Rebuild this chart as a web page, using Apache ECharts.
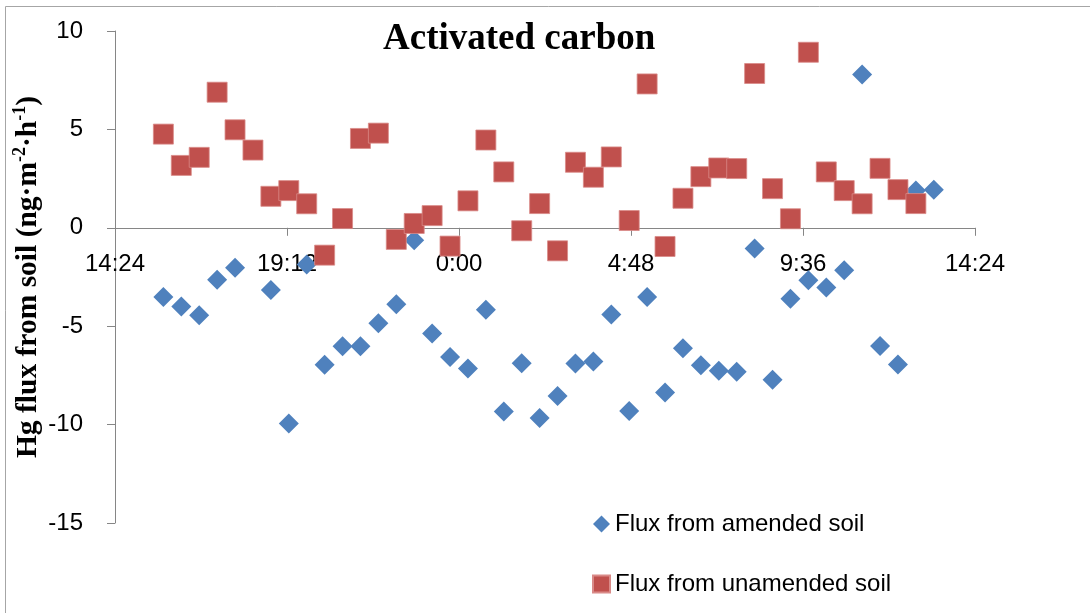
<!DOCTYPE html>
<html>
<head>
<meta charset="utf-8">
<script src="https://cdn.jsdelivr.net/npm/echarts@6/dist/echarts.min.js"></script>
<style>
html,body{margin:0;padding:0;background:#fff;}
#chart{width:1090px;height:613px;}
</style>
</head>
<body>
<div id="chart"></div>
<script>
// Sampling times (clock time, run starts afternoon and continues to next day)
const times = ['15:45','16:15','16:45','17:15','17:45','18:15','18:45','19:15','19:45','20:15',
  '20:45','21:15','21:45','22:15','22:45','23:15','23:45','0:15','0:45','1:15',
  '1:45','2:15','2:45','3:15','3:45','4:15','4:45','5:15','5:45','6:15',
  '6:45','7:15','7:45','8:15','8:45','9:15','9:45','10:15','10:45','11:15',
  '11:45','12:15','12:45','13:15'];

// Flux from amended soil (ng m-2 h-1)
const amended = [-3.52,-4.00,-4.44,-2.64,-2.03,null,-3.16,-9.94,-1.86,-6.96,
  -6.02,-6.02,-4.85,-3.89,-0.63,-5.37,-6.56,-7.15,-4.17,-9.33,
  -6.88,-9.67,-8.55,-6.90,-6.80,-4.41,-9.31,-3.52,-8.37,-6.12,
  -6.98,-7.27,-7.32,-1.05,-7.72,-3.60,-2.67,-3.03,-2.16,7.79,
  -6.00,-6.95,1.89,1.93];

// Flux from unamended soil (ng m-2 h-1)
const unamended = [4.76,3.17,3.58,6.89,4.98,3.95,1.60,1.89,1.22,-1.39,
  0.47,4.54,4.81,-0.59,0.22,0.62,-0.93,1.37,4.46,2.84,
  -0.15,1.23,-1.17,3.33,2.57,3.60,0.37,7.31,-0.95,1.50,
  2.60,3.04,3.01,7.84,1.99,0.46,8.92,2.84,1.89,1.22,
  3.02,1.94,1.23,null];

const seriesNames = ['Flux from amended soil','Flux from unamended soil'];
const xTickLabels = ['14:24','19:12','0:00','4:48','9:36','14:24'];
const xMin = 14.4, xMax = 38.4, xStep = 4.8;   // hours (14:24 -> 14:24 next day)
const yMin = -15, yMax = 10, yStep = 5;

function toHours(t){
  const p = t.split(':');
  let v = Number(p[0]) + Number(p[1]) / 60;
  if (v < xMin) v += 24;
  return v;
}
function pairs(vals){
  const out = [];
  times.forEach((t,i)=>{ if (vals[i] !== null) out.push([toHours(t), vals[i]]); });
  return out;
}

const gridTop = 31, gridBottom = 90, chartH = 613;
const plotH = chartH - gridTop - gridBottom;
// move the x axis (line, ticks, labels) up to the y = 0 line
const xAxisOffset = -plotH * (0 - yMin) / (yMax - yMin);

const chart = echarts.init(document.getElementById('chart'), null, {renderer:'canvas'});
const axisGray = '#868686';
const option = {
  backgroundColor: '#fff',
  animation: false,
  graphic: [{
    type: 'rect', silent: true, z: -1,
    shape: {x: 5.5, y: 6.5, width: 1100, height: 700},
    style: {fill: 'none', stroke: '#a6a6a6', lineWidth: 1}
  }],
  title: {
    text: 'Activated carbon',
    left: 383, top: 21, padding: 0,
    textStyle: {fontFamily: 'Liberation Serif', fontWeight: 'bold', fontSize: 37, color: '#000'}
  },
  legend: {
    orient: 'vertical',
    left: 592, top: 512, padding: 0,
    itemWidth: 17, itemHeight: 17, itemGap: 36,
    textStyle: {fontFamily: 'Liberation Sans', fontSize: 24, color: '#000'},
    data: [{name: seriesNames[0], icon: 'diamond'}, {name: seriesNames[1], icon: 'rect'}]
  },
  grid: {left: 115, right: 115, top: gridTop, bottom: gridBottom, outerBoundsMode: 'none'},
  xAxis: {
    type: 'value', min: xMin, max: xMax, interval: xStep,
    position: 'bottom', offset: xAxisOffset, z: 0,
    axisLine: {onZero: false, lineStyle: {color: axisGray, width: 1}},
    axisTick: {show: true, length: 8, lineStyle: {color: axisGray}},
    splitLine: {show: false},
    axisLabel: {
      margin: 25, showMinLabel: true, showMaxLabel: true,
      fontFamily: 'Liberation Sans', fontSize: 24, color: '#000',
      formatter: function(v){
        const idx = Math.round((v - xMin) / xStep);
        return xTickLabels[idx] !== undefined ? xTickLabels[idx] : '';
      }
    }
  },
  yAxis: {
    type: 'value', min: yMin, max: yMax, interval: yStep,
    name: '{b|Hg flux from soil (ng·m}{s|-2}{b|·h}{s|-1}{b|)}',
    nameLocation: 'middle', nameGap: 70, nameMoveOverlap: false,
    nameTextStyle: {
      rich: {
        b: {fontFamily: 'Liberation Serif', fontWeight: 'bold', fontSize: 29.5, lineHeight: 34, color: '#000'},
        s: {fontFamily: 'Liberation Serif', fontWeight: 'bold', fontSize: 18, lineHeight: 24, verticalAlign: 'top', color: '#000'}
      }
    },
    axisLine: {show: true, lineStyle: {color: axisGray, width: 1}},
    axisTick: {show: true, length: 8, lineStyle: {color: axisGray}},
    splitLine: {show: false},
    axisLabel: {margin: 32, fontFamily: 'Liberation Sans', fontSize: 24, color: '#000'}
  },
  series: [
    {
      name: seriesNames[0], type: 'scatter', symbol: 'diamond', symbolSize: 20, z: 5,
      itemStyle: {color: '#4F81BD', opacity: 1},
      data: pairs(amended)
    },
    {
      name: seriesNames[1], type: 'scatter', symbol: 'rect', symbolSize: 20, z: 6,
      itemStyle: {color: '#C0504D', opacity: 1, borderColor: '#D98A88', borderWidth: 0.8},
      data: pairs(unamended)
    }
  ]
};
chart.setOption(option);
</script>
</body>
</html>
